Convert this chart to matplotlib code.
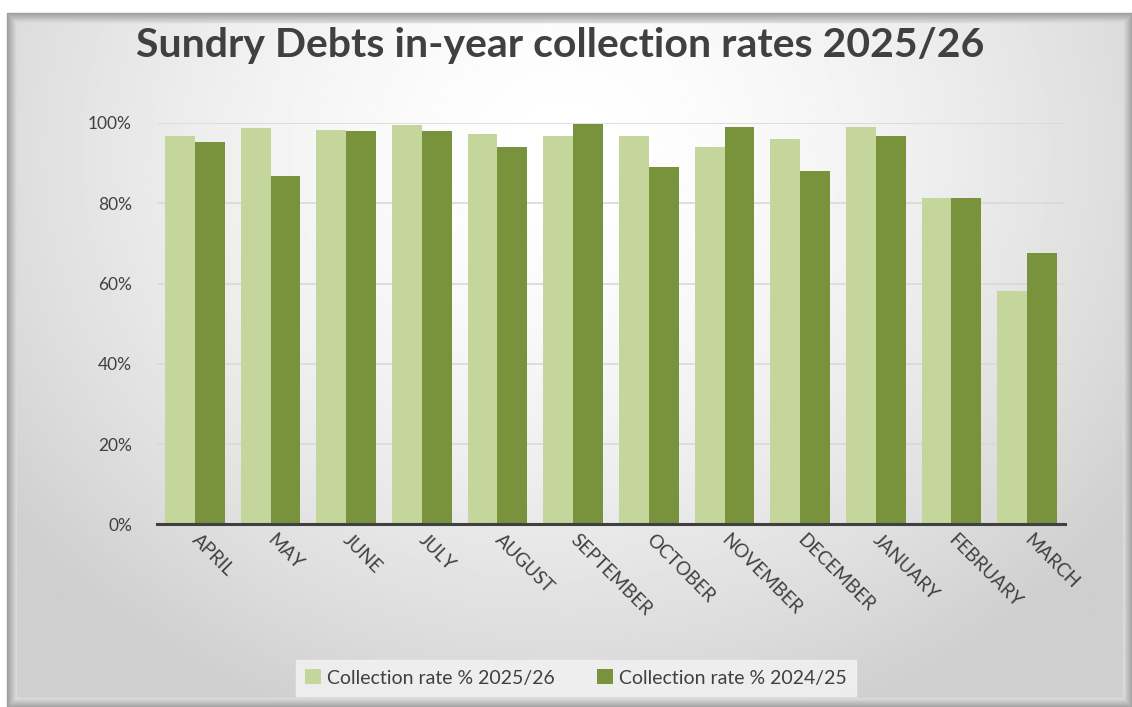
import numpy as np
import matplotlib.pyplot as plt
from matplotlib.patches import Rectangle

# Datos
months = ["APRIL", "MAY", "JUNE", "JULY", "AUGUST", "SEPTEMBER", "OCTOBER",
          "NOVEMBER", "DECEMBER", "JANUARY", "FEBRUARY", "MARCH"]
rate_2025_26 = [96.8, 98.7, 98.3, 99.4, 97.2, 96.8, 96.8, 93.9, 96.1, 99.1, 81.3, 58.2]
rate_2024_25 = [95.3, 86.9, 97.9, 97.9, 93.9, 99.7, 89.1, 99.1, 88.0, 96.8, 81.3, 67.7]
y_ticks = [0, 20, 40, 60, 80, 100]

light = "#C4D69B"
dark = "#79933C"
text_col = "#404040"

plt.rcParams['font.family'] = ['Lato', 'DejaVu Sans']

W, H = 1132, 707
fig = plt.figure(figsize=(W / 100, H / 100), dpi=100)
fig.patch.set_facecolor("white")

# Fondo con degradado radial
bg = fig.add_axes([0, 0, 1, 1], zorder=0)
bg.set_xlim(0, W)
bg.set_ylim(H, 0)
bg.axis("off")
x0, y0, x1, y1 = 7, 13, W, H
xx, yy = np.meshgrid(np.linspace(x0, x1, 400), np.linspace(y0, y1, 250))
r = np.sqrt(((xx - 566) / 700) ** 2 + ((yy - 150) / 620) ** 2)
val = 1.0 - 0.19 * np.clip(r, 0, 1) ** 1.6
bg.imshow(val, cmap="gray", vmin=0, vmax=1, extent=[x0, x1, y1, y0],
          aspect="auto", interpolation="bilinear")
# Bisel del marco
for i, c in enumerate(np.linspace(0.62, 0.86, 10)):
    bg.add_patch(Rectangle((x0 + i, y0 + i), (x1 - x0) - 2 * i, (y1 - y0) - 2 * i,
                           fill=False, edgecolor=str(c), lw=1.0))

# Grafico
ax = fig.add_axes([157 / W, 1 - 524.3 / H, (1065 - 157) / W, (524.3 - 123) / H], zorder=1)
ax.patch.set_alpha(0)
x = np.arange(len(months))
w = 0.395
ax.bar(x - w / 2, rate_2025_26, w, color=light, label="Collection rate % 2025/26", zorder=2)
ax.bar(x + w / 2, rate_2024_25, w, color=dark, label="Collection rate % 2024/25", zorder=2)

ax.set_xlim(-0.5, len(months) - 0.5)
ax.set_ylim(0, 100)
ax.set_yticks(y_ticks)
ax.set_yticklabels([f"{t}%" for t in y_ticks], fontsize=12.5, color=text_col)
ax.yaxis.grid(True, color="#D9D9D9", lw=1.2, zorder=0)
ax.set_axisbelow(True)
ax.tick_params(axis="y", length=0, pad=18)
ax.tick_params(axis="x", length=0, pad=9)
ax.set_xticks(x)
ax.set_xticklabels(months, rotation=-45, ha="left", va="center",
                   rotation_mode="anchor", fontsize=13.5, color=text_col)
for s in ["top", "right", "left"]:
    ax.spines[s].set_visible(False)
ax.spines["bottom"].set_color("#404040")
ax.spines["bottom"].set_linewidth(2.2)

fig.text(0.495, 1 - 45 / H, "Sundry Debts in-year collection rates 2025/26",
         ha="center", va="center", fontsize=29.5, fontweight="bold", color=text_col)

leg = fig.legend(loc="center", bbox_to_anchor=(576 / W, 1 - 678 / H), ncol=2,
                 frameon=True, fontsize=14, handlelength=0.8, handleheight=0.8,
                 handletextpad=0.3, columnspacing=2.2, borderpad=0.5,
                 fancybox=False, labelcolor=text_col)
leg.get_frame().set_facecolor("#F2F2F2")
leg.get_frame().set_edgecolor("#F2F2F2")
leg.get_frame().set_alpha(0.85)

plt.savefig("out.png", dpi=100)
